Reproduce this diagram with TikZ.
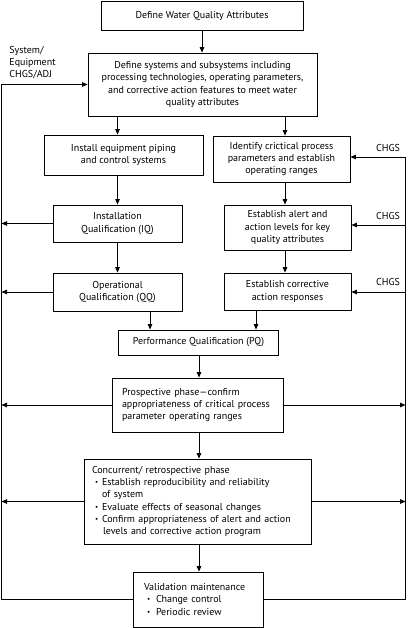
\documentclass[tikz,border=0pt]{standalone}
\usepackage{fontspec}
\usepackage{graphicx}
\setmainfont{PT Sans}
\usetikzlibrary{arrows.meta,calc}
\newcommand\bulA{\makebox[7pt][l]{\raisebox{0.2ex}{\scalebox{0.7}{•}}}}
\newcommand\bulB{\makebox[9pt][l]{\raisebox{0.2ex}{\scalebox{0.7}{•}}}}
\begin{document}
\begin{tikzpicture}[x=1pt,y=-1pt,line width=0.8pt,
  box/.style={draw,inner sep=0pt,align=center,font=\fontsize{10}{12.2}\selectfont},
  lbox/.style={draw,inner ysep=0pt,align=left,font=\fontsize{10}{12.2}\selectfont},
  arr/.style={-{Triangle[length=5.5pt,width=4.5pt]}},
  lbl/.style={inner sep=0pt,font=\fontsize{10}{12.2}\selectfont}]
\useasboundingbox (0,0) rectangle (407,628);
% nodes
\node[box,minimum width=202pt,minimum height=29pt] (b1) at (202,15.5) {Define Water Quality Attributes};
\node[box,minimum width=229pt,minimum height=63pt] (b2) at (202.5,84.5) {Define systems and subsystems including\\processing technologies, operating parameters,\\and corrective action features to meet water\\quality attributes};
\node[box,minimum width=159pt,minimum height=40pt] (inst) at (123.5,155) {Install equipment piping\\and control systems};
\node[box,minimum width=129pt,minimum height=37pt] (iq) at (117.5,223.5) {Installation\\Qualification (IQ)};
\node[box,minimum width=129pt,minimum height=38pt] (oq) at (117.5,292) {Operational\\Qualification (QQ)};
\node[box,minimum width=137pt,minimum height=46pt] (idp) at (281.5,159) {Identify crictical process\\parameters and establish\\operating ranges};
\node[box,minimum width=127pt,minimum height=45pt] (alert) at (287.5,227.5) {Establish alert and\\action levels for key\\quality attributes};
\node[box,minimum width=127pt,minimum height=37pt] (corr) at (287.5,291.5) {Establish corrective\\action responses};
\node[box,minimum width=160pt,minimum height=25pt] (pq) at (198.5,342.5) {Performance Qualification (PQ)};
\node[lbox,inner xsep=10pt,text width=151pt,minimum height=54pt] (pros) at (197.5,405) {Prospective phase—confirm\\appropriateness of critical process\\parameter operating ranges};
\node[lbox,inner xsep=8pt,text width=211pt,minimum height=85pt] (conc) at (197.5,501.5) {Concurrent/ retrospective phase\\
\hspace*{3pt}\bulA Establish reproducibility and reliability\\
\hspace*{10pt}of system\\
\hspace*{3pt}\bulA Evaluate effects of seasonal changes\\
\hspace*{3pt}\bulA Confirm appropriateness of alert and action\\
\hspace*{11pt}levels and corrective action program};
\node[lbox,inner xsep=11pt,text width=108pt,minimum height=55pt] (val) at (198,599.5) {Validation maintenance\\
\hspace*{3pt}\bulB Change control\\
\hspace*{3pt}\bulB Periodic review};
% labels
\node[lbl,anchor=north west,align=left] (sys) at (9,46) {System/\\Equipment\\CHGS/ADJ};
\node[lbl] (ch1) at (388,148) {CHGS};
\node[lbl] (ch2) at (388,216) {CHGS};
\node[lbl] (ch3) at (388,282) {CHGS};
% helper coordinates
\coordinate (L) at (1.5,0);
\coordinate (R) at (405.5,0);
\coordinate (xr) at (285,0);
\coordinate (xa) at (150,0);
\coordinate (xb) at (256,0);
\coordinate (xm) at (199,0);
\coordinate (c1) at (405.5,157);
\coordinate (c2) at (405.5,225);
\coordinate (c3) at (405.5,292);
% main flow
\draw[arr] (b1.south) -- (b1.south |- b2.north);
\draw[arr] (b2.south -| iq) -- (inst.north -| iq);
\draw[arr] (b2.south -| xr) -- (idp.north -| xr);
\draw[arr] (inst.south -| iq) -- (iq.north);
\draw[arr] (iq.south) -- (oq.north);
\draw[arr] (idp.south -| xr) -- (alert.north -| xr);
\draw[arr] (alert.south -| xr) -- (corr.north -| xr);
\draw[arr] (oq.south -| xa) -- (pq.north -| xa);
\draw[arr] (corr.south -| xb) -- (pq.north -| xb);
\draw[arr] (pq.south -| xm) -- (pros.north -| xm);
\draw[arr] (pros.south -| xm) -- (conc.north -| xm);
\draw[arr] (conc.south -| xm) -- (val.north -| xm);
% feedback rails
\draw[arr] (val.west) -| (L |- b2.west) -- (b2.west);
\draw[arr] (val.east) -| (c1) -- (c1 -| idp.east);
\draw[arr] (c2) -- (c2 -| alert.east);
\draw[arr] (c3) -- (c3 -| corr.east);
\draw[arr] (iq.west) -- (iq.west -| L);
\draw[arr] (oq.west) -- (oq.west -| L);
\draw[arr] (pros.west) -- (pros.west -| L);
\draw[arr] (conc.west) -- (conc.west -| L);
\draw[arr] (pros.east) -- (pros.east -| R);
\draw[arr] (conc.east) -- (conc.east -| R);
\end{tikzpicture}
\end{document}
